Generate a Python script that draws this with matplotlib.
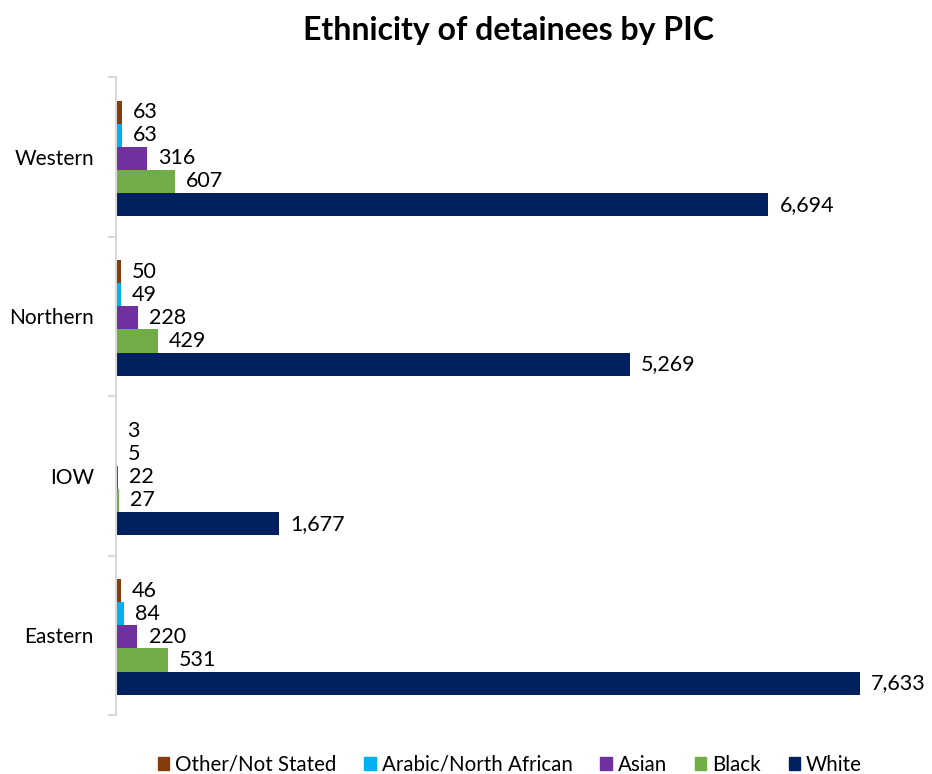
import matplotlib.pyplot as plt
import numpy as np
from matplotlib.patches import Patch

plt.rcParams['font.family'] = ['Lato', 'DejaVu Sans']

# datos
regions = ['Eastern', 'IOW', 'Northern', 'Western']
series = ['Other/Not Stated', 'Arabic/North African', 'Asian', 'Black', 'White']
other = [46, 3, 50, 63]
arabic = [84, 5, 49, 63]
asian = [220, 22, 228, 316]
black = [531, 27, 429, 607]
white = [7633, 1677, 5269, 6694]
colors = ['#843C0C', '#00B0F0', '#7030A0', '#70AD47', '#002060']

values = [other, arabic, asian, black, white]

fig = plt.figure(figsize=(9.32, 7.74), dpi=100)
ax = fig.add_axes([0.1245, 0.0762, 0.8365, 0.8243])

y = np.arange(len(regions))
h = 0.145
for i, (vals, col) in enumerate(zip(values, colors)):
    off = (2 - i) * h - 0.01  # Other arriba, White abajo
    bars = ax.barh(y + off, vals, height=h, color=col, label=series[i])
    ax.bar_label(bars, labels=[f'{v:,}' for v in vals], padding=8, fontsize=15.5)

ax.set_xlim(0, 8000)
ax.set_ylim(-0.5, len(regions) - 0.5)
ax.set_yticks(y)
ax.set_yticklabels(regions, fontsize=15)
ax.set_yticks(np.arange(-0.5, len(regions)), minor=True)
ax.tick_params(axis='y', which='major', length=0, pad=16)
ax.tick_params(axis='y', which='minor', length=6, color='#D9D9D9', width=1.5)
ax.set_xticks([])
for s in ['top', 'right', 'bottom']:
    ax.spines[s].set_visible(False)
ax.spines['left'].set_color('#D9D9D9')
ax.spines['left'].set_linewidth(1.5)

fig.text(0.545, 0.96, 'Ethnicity of detainees by PIC', ha='center', va='center',
         fontsize=23, fontweight='bold')

handles = [Patch(color=c, label=s) for s, c in zip(series, colors)]
fig.legend(handles=handles, loc='center', bbox_to_anchor=(0.547, 0.012), ncol=5,
           frameon=False, fontsize=14.8, handlelength=0.55, handleheight=0.55,
           handletextpad=0.3, columnspacing=1.35)

fig.savefig('out.png')
